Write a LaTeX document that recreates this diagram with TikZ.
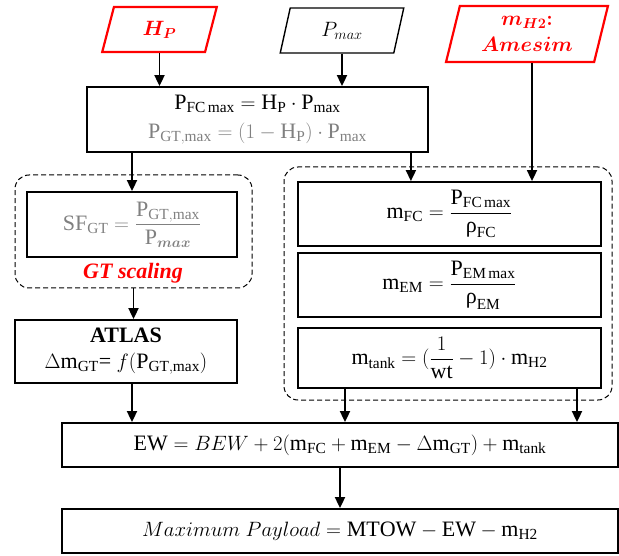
\documentclass[tikz,border=0pt]{standalone}
\usepackage{amsmath}
\usepackage{bm}
\usepackage{fontspec}
\setmainfont{Liberation Serif}
\usetikzlibrary{arrows.meta,shapes.geometric}

\begin{document}
\begin{tikzpicture}[x=1pt,y=-1pt,
	  font=\fontsize{22}{26}\selectfont,
	  box/.style={draw,line width=1.8pt,align=center,inner sep=0pt},
	  inbox/.style={trapezium,trapezium stretches=true,draw,line width=1.4pt,align=center,inner sep=0pt},
	  group/.style={draw,line width=1pt,dash pattern=on 5pt off 3pt,rounded corners=14pt,inner sep=0pt},
	  arr/.style={line width=1.8pt,-{Triangle[length=11pt,width=10pt]}}]
	  \useasboundingbox (0,0) rectangle (619,556);
	  % inputs
	  \node [inbox,red,line width=2.2pt,trapezium left angle=76,trapezium right angle=104,minimum width=115pt,minimum height=45pt] at (159.5,29.5) (hp) {$\bm{H_P}$};
	  \node [inbox,trapezium left angle=77,trapezium right angle=103,minimum width=124pt,minimum height=45pt] at (342,30.5) (pmax) {$P_{max}$};
	  \node [inbox,red,line width=2.2pt,trapezium left angle=75,trapezium right angle=105,minimum width=162pt,minimum height=56pt] at (527,34) (mh2) {$\bm{m_{H2}{:}}$\\$\bm{Amesim}$};
	  \node [box,font=\fontsize{22}{29}\selectfont,minimum width=341pt,minimum height=65pt] at (257.5,119.5) (pfc) {$\mathrm{P}_{\mathrm{FC\,max}} = \mathrm{H}_{\mathrm{P}}\cdot\mathrm{P}_{\mathrm{max}}$\\ \textcolor{gray}{$\mathrm{P}_{\mathrm{GT,max}} = (1-\mathrm{H}_{\mathrm{P}})\cdot\mathrm{P}_{\mathrm{max}}$}};
	  % GT scaling
	  \node [group,minimum width=237pt,minimum height=113pt] at (133.5,231.5) (grpL) {};
	  \node [box,text=gray,minimum width=210pt,minimum height=65pt] at (132,224.5) (sf) {$\mathrm{SF}_{\mathrm{GT}} = \dfrac{\mathrm{P}_{\mathrm{GT,max}}}{\mathrm{P}_{\bm{max}}}$};
	  \node [red,font=\fontsize{22}{26}\selectfont\bfseries\itshape] at (133,273) (gtlbl) {GT scaling};
	  \node [box,minimum width=222pt,minimum height=63pt] at (126,351.5) (atlas) {\textbf{ATLAS}\\$\Delta\mathrm{m}_{\mathrm{GT}}$= $f(\mathrm{P}_{\mathrm{GT,max}})$};
	  % masses
	  \node [group,minimum width=328pt,minimum height=233pt] at (448,283.5) (grpR) {};
	  \foreach \n/\y/\h/\t in {mfc/214/64/{$\mathrm{m}_{\mathrm{FC}} = \dfrac{\mathrm{P}_{\mathrm{FC\,max}}}{\text{ρ}_{\mathrm{FC}}}$}, mem/285/64/{$\mathrm{m}_{\mathrm{EM}} = \dfrac{\mathrm{P}_{\mathrm{EM\,max}}}{\text{ρ}_{\mathrm{EM}}}$}, mtank/358/60/{$\mathrm{m}_{\mathrm{tank}} = (\dfrac{1}{\mathrm{wt}} - 1)\cdot\mathrm{m}_{\mathrm{H2}}$}}{
	  	\node [box,minimum width=303pt,minimum height=\h pt] at (449.5,\y) (\n) {\t};
	  }
	  \node [box,minimum width=556pt,minimum height=44pt] at (340,445) (ew) {$\mathrm{EW} = BEW + 2(\mathrm{m}_{\mathrm{FC}} + \mathrm{m}_{\mathrm{EM}} - \Delta\mathrm{m}_{\mathrm{GT}}) + \mathrm{m}_{\mathrm{tank}}$};
	  \node [box,minimum width=556pt,minimum height=44pt] at (340,531) (pay) {$Maximum\ Payload = \mathrm{MTOW} - \mathrm{EW} - \mathrm{m}_{\mathrm{H2}}$};
	  % arrows
	  \draw [arr] (hp.south) -- (hp.south |- pfc.north);
	  \draw [arr] (pmax.south) -- (pmax.south |- pfc.north);
	  \draw [arr] ([xshift=5pt]mh2.south) -- ([xshift=5pt]mh2.south |- mfc.north);
	  \draw [arr] (sf.north |- pfc.south) -- (sf.north);
	  \draw [arr] ([xshift=-18pt]pfc.south east) -- ([xshift=-18pt]pfc.south east |- mfc.north);
	  \draw [arr] (grpL.south) -- (grpL.south |- atlas.north);
	  \draw [arr] (sf.south |- atlas.south) -- (sf.south |- ew.north);
	  \foreach \s in {-104.5,127.5}{
	  	\draw [arr] ([xshift=\s pt]mtank.south) -- ([xshift=\s pt]mtank.south |- ew.north);
	  }
	  \draw [arr] (ew) -- (pay);
\end{tikzpicture}
\end{document}
